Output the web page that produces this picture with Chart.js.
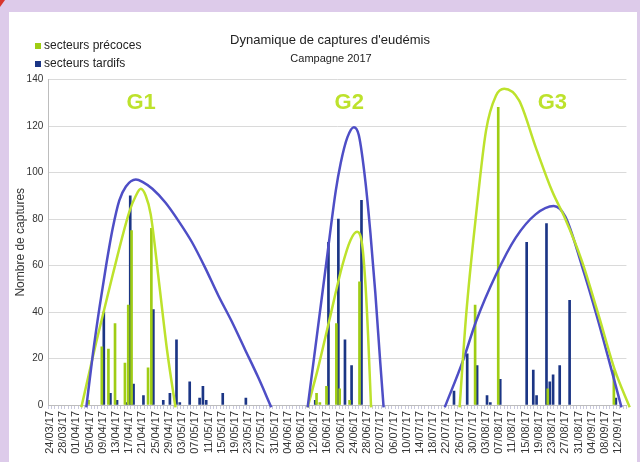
<!DOCTYPE html>
<html lang="fr">
<head>
<meta charset="utf-8">
<title>Dynamique de captures d'eudémis</title>
<script src="https://cdn.jsdelivr.net/npm/chart.js@4.4.1/dist/chart.umd.min.js"></script>
<style>
    html, body { margin: 0; padding: 0; }
    body { width: 640px; height: 462px; background: #ddcbea; position: relative; overflow: hidden; }
    .panel { position: absolute; left: 9px; top: 12px; width: 628px; height: 450px; background: #fff; }
    .corner { position: absolute; left: 0; top: 0; width: 0; height: 0;
              border-top: 7px solid #d8362c; border-right: 5px solid transparent; }
    canvas { position: absolute; left: 0; top: 0; }
</style>
</head>
<body>
<div class="panel"></div>
<div class="corner"></div>
<canvas id="capturesChart" width="640" height="462"></canvas>

<script>
/**
 * Dynamique de captures d'eudémis - campagne 2017
 */

const FONT = '"Liberation Sans", Arial, sans-serif';

// One category per day, 24/03/17 -> 13/09/17
const firstDay = new Date(2017, 2, 24);
const dayCount = 175;
const days = [];
for (let i = 0; i < dayCount; i++) {
    const d = new Date(firstDay.getFullYear(), firstDay.getMonth(), firstDay.getDate() + i);
    days.push(String(d.getDate()).padStart(2, '0') + '/' + String(d.getMonth() + 1).padStart(2, '0') + '/17');
}

// Captures, secteurs précoces [day, count]
const precocesCaptures = [
    ['05/04/17', 2], ['09/04/17', 25], ['11/04/17', 24], ['13/04/17', 35],
    ['16/04/17', 18], ['17/04/17', 43], ['18/04/17', 75], ['23/04/17', 16],
    ['24/04/17', 76], ['13/06/17', 5], ['14/06/17', 1], ['16/06/17', 8],
    ['19/06/17', 35], ['20/06/17', 7], ['23/06/17', 2], ['26/06/17', 53],
    ['31/07/17', 43], ['07/08/17', 128], ['22/08/17', 7], ['11/09/17', 15]
];

// Captures, secteurs tardifs [day, count]
const tardifsCaptures = [
    ['09/04/17', 40], ['11/04/17', 5], ['13/04/17', 2], ['16/04/17', 1],
    ['17/04/17', 90], ['18/04/17', 9], ['21/04/17', 4], ['24/04/17', 41],
    ['27/04/17', 2], ['29/04/17', 5], ['01/05/17', 28], ['02/05/17', 1],
    ['05/05/17', 10], ['08/05/17', 3], ['09/05/17', 8], ['10/05/17', 2],
    ['15/05/17', 5], ['22/05/17', 3], ['12/06/17', 2], ['16/06/17', 70],
    ['19/06/17', 80], ['21/06/17', 28], ['23/06/17', 17], ['26/06/17', 88],
    ['24/07/17', 6], ['28/07/17', 22], ['31/07/17', 17], ['03/08/17', 4],
    ['04/08/17', 1], ['07/08/17', 11], ['15/08/17', 70], ['17/08/17', 15],
    ['18/08/17', 4], ['21/08/17', 78], ['22/08/17', 10], ['23/08/17', 13],
    ['25/08/17', 17], ['28/08/17', 45], ['11/09/17', 3]
];

// Hand drawn flight curves: [days since 24/03, captures]
const g1Precoces = [[9.5, -1], [14, 27], [19, 56], [24, 83], [26, 90], [27.5, 93], [29, 90], [30.5, 82], [33, 53], [35.5, 23], [38, -1]];
const g1Tardifs = [[11, -1], [13, 22], [15, 42], [17, 60], [19, 76], [21, 88], [23, 94], [26, 97], [28, 96], [31, 93], [35, 87], [39, 79], [43, 70], [47, 59], [51, 47], [55, 36], [59, 24], [63, 12], [67, -1]];
const g2Precoces = [[78, -1], [81, 15], [84.5, 36], [88.5, 60], [91, 71], [93, 74.5], [94.5, 69], [95.5, 52], [96.3, 30], [97.2, -1]];
const g2Tardifs = [[78, -1], [81, 32], [84, 65], [86.5, 92], [88, 104], [90, 115], [92, 119.5], [93.5, 116], [95.5, 96], [97, 74], [98.5, 48], [100, 18], [101, -1]];
const g3Precoces = [[124, -1], [126, 39], [129, 82], [132, 118], [135, 133], [137.5, 136], [142, 131], [147, 111], [152, 92], [156, 80], [161, 62], [166, 39], [171, 15], [175.5, -1]];
const g3Tardifs = [[119.5, -1], [125, 19], [129, 36], [135, 56], [141, 72], [147, 82], [152.5, 85.6], [156, 81], [161, 60], [166, 36], [170, 15], [173, -1]];

// Generation labels
const groupNames = ['G1', 'G2', 'G3'];
const groupDays = [27.6, 90.6, 152.1];
const groupLevel = 130;

const yTicks = { min: 0, max: 140, step: 20 };

const GREEN_BAR = '#9fcd14';
const BLUE_BAR = '#1b3585';
const GREEN_LINE = '#bde22c';
const BLUE_LINE = '#4e4ec6';

function toSeries(pairs) {
    const values = days.map(() => null);
    pairs.forEach(([day, n]) => { values[days.indexOf(day)] = n; });
    return values;
}

function curve(points, color) {
    return {
        type: 'line',
        xAxisID: 'xc',
        data: points.map(([x, y]) => ({ x, y })),
        borderColor: color,
        borderWidth: 2.5,
        pointRadius: 0,
        cubicInterpolationMode: 'monotone',
        fill: false,
        clip: false,
        order: 0
    };
}

// Title, legend and G labels
const decorations = {
    id: 'decorations',
    afterDraw(chart) {
        const ctx = chart.ctx;
        ctx.save();
        ctx.fillStyle = '#222';
        ctx.textAlign = 'center';
        ctx.textBaseline = 'middle';
        ctx.font = '13px ' + FONT;
        ctx.fillText("Dynamique de captures d'eudémis", 330, 40);
        ctx.font = '11px ' + FONT;
        ctx.fillText('Campagne 2017', 331, 59);

        // legend on the left, one item per line
        ctx.textAlign = 'left';
        ctx.font = '12px ' + FONT;
        const bars = chart.data.datasets.filter(ds => ds.type !== 'line');
        bars.forEach((ds, i) => {
            const y = 46 + i * 18;
            ctx.fillStyle = ds.backgroundColor;
            ctx.fillRect(35, y - 3, 6, 6);
            ctx.fillStyle = '#222';
            ctx.fillText(ds.label, 44, y);
        });

        const xs = chart.scales.xc;
        const ys = chart.scales.y;
        ctx.textAlign = 'center';
        ctx.fillStyle = GREEN_LINE;
        ctx.font = 'bold 22px ' + FONT;
        groupNames.forEach((name, i) => {
            ctx.fillText(name, xs.getPixelForValue(groupDays[i]), ys.getPixelForValue(groupLevel));
        });
        ctx.restore();
    }
};

new Chart(document.getElementById('capturesChart'), {
    type: 'bar',
    data: {
        labels: days,
        datasets: [
            curve(g1Tardifs, BLUE_LINE),
            curve(g1Precoces, GREEN_LINE),
            curve(g2Tardifs, BLUE_LINE),
            curve(g2Precoces, GREEN_LINE),
            curve(g3Precoces, GREEN_LINE),
            curve(g3Tardifs, BLUE_LINE),
            {
                label: 'secteurs précoces',
                data: toSeries(precocesCaptures),
                backgroundColor: GREEN_BAR,
                xAxisID: 'x',
                order: 1
            },
            {
                label: 'secteurs tardifs',
                data: toSeries(tardifsCaptures),
                backgroundColor: BLUE_BAR,
                xAxisID: 'x',
                order: 1
            }
        ]
    },
    options: {
        responsive: false,
        devicePixelRatio: 1,
        animation: false,
        layout: { padding: { left: 13.5, right: 8.3, top: 79.5, bottom: 0 } },
        datasets: {
            bar: { barThickness: 2 }
        },
        plugins: {
            legend: { display: false },
            tooltip: { enabled: false }
        },
        scales: {
            x: {
                type: 'category',
                grid: { drawOnChartArea: false, color: '#c9c9dc', tickLength: 4 },
                border: { color: '#bdbdbd' },
                ticks: {
                    autoSkip: false,
                    minRotation: 90,
                    maxRotation: 90,
                    padding: 2,
                    color: '#333',
                    font: { family: FONT, size: 11 },
                    callback: function (value, index) {
                        return index % 4 === 0 ? this.getLabelForValue(value) : '';
                    }
                },
                afterFit: (scale) => { scale.height = 57; }
            },
            xc: {
                type: 'linear',
                display: false,
                offset: false,
                min: -0.5,
                max: dayCount - 0.5
            },
            y: {
                min: yTicks.min,
                max: yTicks.max,
                grid: { color: '#dadada', drawTicks: false },
                border: { color: '#bdbdbd' },
                ticks: {
                    stepSize: yTicks.step,
                    padding: 5,
                    color: '#333',
                    font: { family: FONT, size: 10 }
                },
                title: {
                    display: true,
                    text: 'Nombre de captures',
                    color: '#333',
                    padding: 0,
                    font: { family: FONT, size: 12 }
                },
                afterFit: (scale) => { scale.width = 34.8; }
            }
        }
    },
    plugins: [decorations]
});
</script>
</body>
</html>
